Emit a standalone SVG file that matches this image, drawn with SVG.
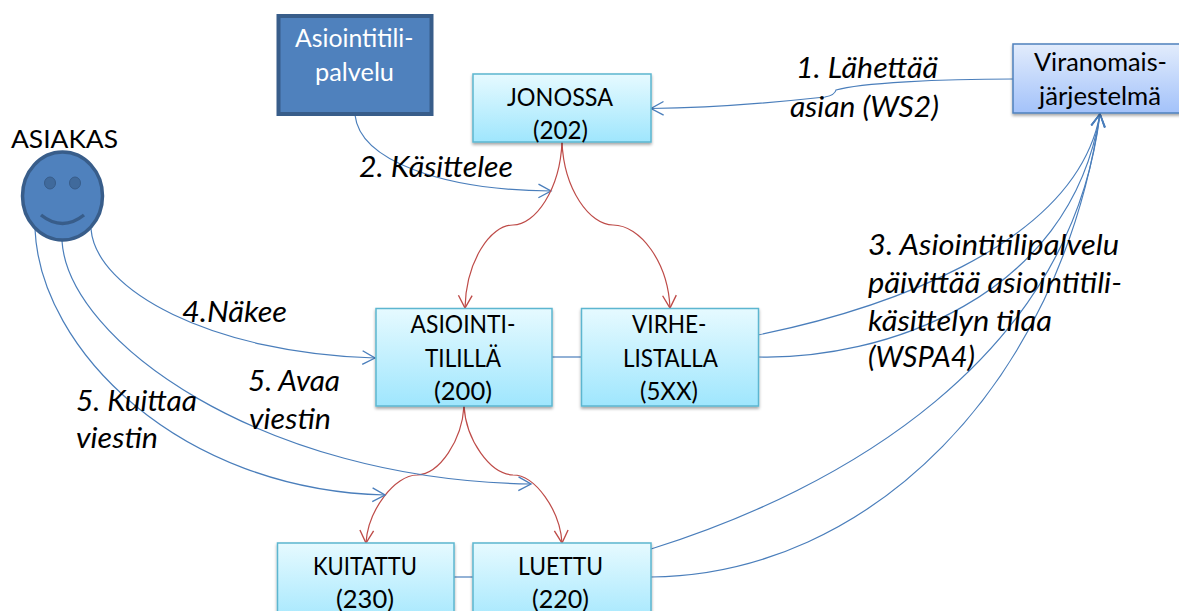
<svg xmlns="http://www.w3.org/2000/svg" width="1179" height="611" viewBox="0 0 1179 611">
<style>
text{font-family:Lato,"Open Sans","Liberation Sans",sans-serif;font-size:25.500px;fill:#000}
.lab{font-style:italic;font-size:28px}
.w{fill:#fff}
.box{fill:url(#cyan);stroke:#5cb6d0;stroke-width:1.5;filter:url(#sh)}
.c{fill:none;stroke:#4a7ebb;stroke-width:1.2}
.r{fill:none;stroke:#be4b48;stroke-width:1.2}
.cb{marker-end:url(#ab)}
.rb{marker-end:url(#ar)}
</style>
<defs>
<linearGradient id="cyan" x1="0" y1="0" x2="0" y2="1"><stop offset="0" stop-color="#e6faff"/><stop offset="1" stop-color="#9fe6fd"/></linearGradient>
<linearGradient id="blue" x1="0" y1="0" x2="0" y2="1"><stop offset="0" stop-color="#e2ecfc"/><stop offset="1" stop-color="#a3c2fa"/></linearGradient>
<filter id="sh" x="-5%" y="-5%" width="110%" height="115%"><feDropShadow dx="0" dy="2" stdDeviation="1.5" flood-color="#000" flood-opacity="0.35"/></filter>
<marker id="ab" markerUnits="userSpaceOnUse" markerWidth="16" markerHeight="16" refX="12" refY="7" orient="auto" viewBox="0 0 14 14"><path d="M1 1L12 7L1 13" fill="none" stroke="#4a7ebb" stroke-width="1.2"/></marker>
<marker id="ar" markerUnits="userSpaceOnUse" markerWidth="16" markerHeight="16" refX="12" refY="7" orient="auto" viewBox="0 0 14 14"><path d="M1 1L12 7L1 13" fill="none" stroke="#be4b48" stroke-width="1.2"/></marker>
</defs>

<g id="connectors">
<path class="c cb" d="M1013 79C940 79 860 83 836 90Q835 95 825 97C770 103 700 108 651 108.500"/>
<path class="c cb" d="M355 115C360 160 440 190 551 191"/>
<path class="r rb" d="M562 142C560 190 535 225 513 225C490 225 466 262 465 308"/>
<path class="r rb" d="M562 142C564 190 590 225 613 225C640 225 668 262 670 308"/>
<path class="r rb" d="M464 406C462 440 440 474 417 475C395 475 368 510 366 543"/>
<path class="r rb" d="M464 406C466 440 490 474 513 475C535 475 560 510 562 543"/>
<path class="c cb" d="M91 229C96 290 210 353 375 358"/>
<path class="c cb" d="M62 241C68 340 260 480 531 484"/>
<path class="c cb" d="M35 229C40 350 180 490 385 495"/>
<path class="c" d="M552 357H581"/>
<path class="c" d="M454 577H473"/>
<path class="c cb" d="M758 335C870 312 1075 250 1100 114"/>
<path class="c cb" d="M758 357C880 360 1070 300 1100 114"/>
<path class="c cb" d="M651 549C840 490 1070 360 1100 114"/>
<path class="c cb" d="M651 577C870 575 1060 385 1100 114"/>
</g>

<g id="asiakas">
<ellipse cx="62.500" cy="196" rx="40" ry="44" fill="#4f81bd" stroke="#385d8a" stroke-width="3.500"/>
<ellipse cx="50" cy="183" rx="5.500" ry="6" fill="#406a9c" stroke="#385d8a"/>
<ellipse cx="75" cy="183" rx="5.500" ry="6" fill="#406a9c" stroke="#385d8a"/>
<path d="M41 215Q62.500 232 84 215" fill="none" stroke="#385d8a" stroke-width="3.500"/>
<text x="11" y="148" textLength="107" lengthAdjust="spacingAndGlyphs">ASIAKAS</text>
</g>

<g id="asiointitilipalvelu">
<rect x="278.500" y="16" width="153" height="98" fill="#4f81bd" stroke="#385d8a" stroke-width="4"/>
<text class="w" x="295" y="47" textLength="118.500" lengthAdjust="spacingAndGlyphs">Asiointitili-</text>
<text class="w" x="315" y="81" textLength="79" lengthAdjust="spacingAndGlyphs">palvelu</text>
</g>

<g id="jonossa">
<rect class="box" x="473" y="74" width="178" height="68"/>
<text x="507" y="106" textLength="106" lengthAdjust="spacingAndGlyphs">JONOSSA</text>
<text x="533" y="139" textLength="55" lengthAdjust="spacingAndGlyphs">(202)</text>
</g>

<g id="viranomais">
<rect x="1013" y="44" width="170" height="69" fill="url(#blue)" stroke="#4f81bd" stroke-width="1.500" filter="url(#sh)"/>
<text x="1034" y="71" textLength="133" lengthAdjust="spacingAndGlyphs">Viranomais-</text>
<text x="1039" y="105" textLength="122" lengthAdjust="spacingAndGlyphs">järjestelmä</text>
</g>

<g id="asiointi">
<rect class="box" x="376" y="308.500" width="176" height="97.500"/>
<text x="410.500" y="333" textLength="105" lengthAdjust="spacingAndGlyphs">ASIOINTI-</text>
<text x="425" y="367" textLength="76" lengthAdjust="spacingAndGlyphs">TILILLÄ</text>
<text x="434" y="400" textLength="58" lengthAdjust="spacingAndGlyphs">(200)</text>
</g>

<g id="virhe">
<rect class="box" x="581.500" y="308.500" width="177" height="97.500"/>
<text x="632" y="333" textLength="74.500" lengthAdjust="spacingAndGlyphs">VIRHE-</text>
<text x="623" y="367" textLength="95" lengthAdjust="spacingAndGlyphs">LISTALLA</text>
<text x="640" y="400" textLength="58" lengthAdjust="spacingAndGlyphs">(5XX)</text>
</g>

<g id="kuitattu">
<rect class="box" x="277.500" y="543" width="176.500" height="86"/>
<text x="313" y="575" textLength="104" lengthAdjust="spacingAndGlyphs">KUITATTU</text>
<text x="336" y="608" textLength="58" lengthAdjust="spacingAndGlyphs">(230)</text>
</g>

<g id="luettu">
<rect class="box" x="473" y="543" width="178" height="86"/>
<text x="518" y="575" textLength="85" lengthAdjust="spacingAndGlyphs">LUETTU</text>
<text x="532" y="608" textLength="57" lengthAdjust="spacingAndGlyphs">(220)</text>
</g>

<g id="labels">
<text class="lab" x="796" y="78" textLength="142" lengthAdjust="spacingAndGlyphs">1. Lähettää</text>
<text class="lab" x="790" y="117" textLength="149" lengthAdjust="spacingAndGlyphs">asian (WS2)</text>
<text class="lab" x="359" y="177" textLength="154" lengthAdjust="spacingAndGlyphs">2. Käsittelee</text>
<text class="lab" x="868" y="255" textLength="251" lengthAdjust="spacingAndGlyphs">3. Asiointitilipalvelu</text>
<text class="lab" x="868" y="293" textLength="254" lengthAdjust="spacingAndGlyphs">päivittää asiointitili-</text>
<text class="lab" x="868" y="331" textLength="184" lengthAdjust="spacingAndGlyphs">käsittelyn tilaa</text>
<text class="lab" x="868" y="367" textLength="107" lengthAdjust="spacingAndGlyphs">(WSPA4)</text>
<text class="lab" x="182" y="322" textLength="105" lengthAdjust="spacingAndGlyphs">4.Näkee</text>
<text class="lab" x="248" y="391" textLength="92" lengthAdjust="spacingAndGlyphs">5. Avaa</text>
<text class="lab" x="249" y="429" textLength="82" lengthAdjust="spacingAndGlyphs">viestin</text>
<text class="lab" x="76" y="411" textLength="121" lengthAdjust="spacingAndGlyphs">5. Kuittaa</text>
<text class="lab" x="76" y="448" textLength="82" lengthAdjust="spacingAndGlyphs">viestin</text>
</g>
</svg>
